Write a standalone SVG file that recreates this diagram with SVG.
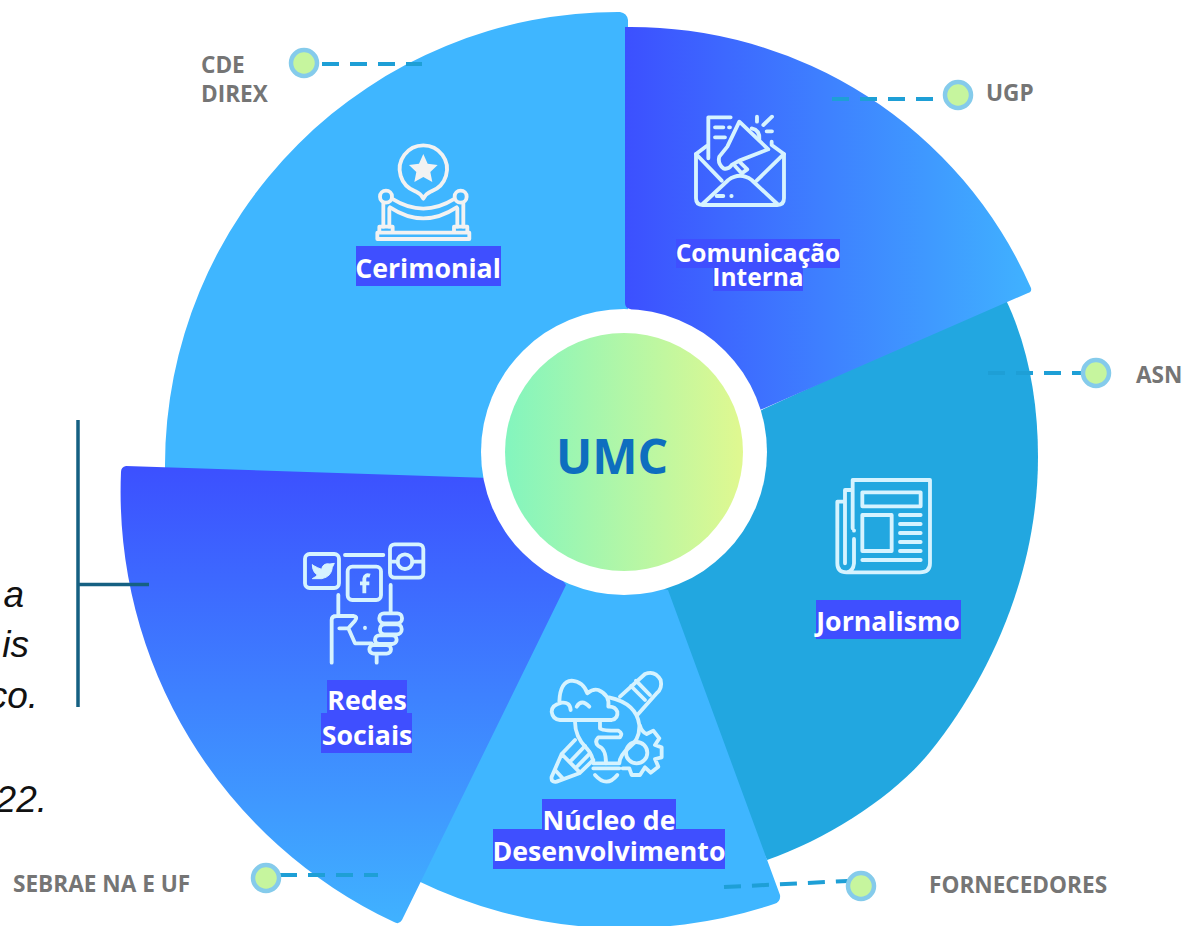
<svg xmlns="http://www.w3.org/2000/svg" width="1182" height="926" viewBox="0 0 1182 926">
<defs>
<linearGradient id="gc" x1="0" y1="0" x2="1" y2="0"><stop offset="0" stop-color="#3C50FF"/><stop offset="1" stop-color="#40B2FF"/></linearGradient>
<linearGradient id="gr" x1="0" y1="0" x2="0" y2="1"><stop offset="0" stop-color="#3C50FF"/><stop offset="1" stop-color="#40B2FF"/></linearGradient>
<linearGradient id="gu" x1="0" y1="0" x2="1" y2="0"><stop offset="0" stop-color="#83F5BE"/><stop offset="1" stop-color="#E0F890"/></linearGradient>
</defs>
<style>
.lbl{font-family:"Open Sans","Noto Sans",sans-serif;font-weight:700;font-size:26.700px;fill:#fff;text-anchor:middle}
.small{font-size:24.500px}
.bg{fill:#3F4FFF}
.side{font-family:"Open Sans","Noto Sans",sans-serif;font-weight:700;font-size:22.600px;fill:#757575}
.cap{font-family:"Liberation Sans",Arial,sans-serif;font-style:italic;font-size:37px;fill:#111;text-anchor:end}
.ic{fill:none;stroke:#D6F3FF;stroke-width:11.500;stroke-linecap:round;stroke-linejoin:round}
.dash{fill:none;stroke:#1E9FD6;stroke-width:4;stroke-dasharray:17 11}
.dot{fill:#C6F59E;stroke:#85CBEB;stroke-width:4.500}
</style>

<g id="sector-cerimonial">
<path d="M620 12 A453 453 0 0 0 165 465 L165 475 L500 480 L628 310 L628 20 Q627 13 620 12 Z" fill="#3FB6FF"/>
<g transform="translate(340,130) scale(.3333)">
<g class="ic" style="stroke:#F2F2F2">
<path d="M226 184 A71 71 0 1 1 274 184 Q258 191 250 206 Q242 191 226 184 Z"/>
<circle cx="138" cy="200" r="18"/><circle cx="362" cy="200" r="18"/>
<path d="M130 218 V290 M148 235 V290 M352 235 V290 M370 218 V290"/>
<path d="M157 207 Q250 265 343 207 M150 232 Q250 298 350 232"/>
<path d="M118 304 V290 H158 V304 M342 304 V290 H382 V304"/>
<rect x="112" y="308" width="276" height="19"/>
</g>
<path d="M250 72 L263 101 L293 105 L271 126 L277 156 L250 141 L223 156 L229 126 L207 105 L237 101 Z" fill="#F2F2F2"/>
</g>
<rect class="bg" x="356" y="246" width="145" height="40"/>
<text class="lbl" x="428" y="278">Cerimonial</text>
</g>

<g id="sector-jornalismo">
<path d="M1005 298 C1028 345 1038 400 1038 457 C1038 570 992 675 930 752 C895 795 830 838 767 860 L640 590 L740 420 Z" fill="#22A7E0"/>
<g transform="translate(820,465) scale(.3333)" class="ic">
<path d="M98 190 V45 H330 V295 Q330 322 300 322 H80 Q52 322 52 295 V110 H75 M75 295 V75 H98 M102 222 V295 Q100 318 80 322 M102 196 V197"/>
<rect x="127" y="82" width="175" height="42"/><rect x="127" y="150" width="88" height="108"/>
<path d="M240 150 H302 M240 177 H302 M240 204 H302 M240 231 H302 M240 258 H302 M127 285 H302"/>
</g>
<rect class="bg" x="816" y="600" width="145" height="39"/>
<text class="lbl" x="888" y="631">Jornalismo</text>
</g>

<g id="sector-desenvolvimento">
<path d="M565 570 L668 590 L780 895 Q781 902 774 904 A474 474 0 0 1 416 880 Z" fill="#3FB6FF"/>
<g transform="translate(530,660) scale(.3333)" class="ic">
<path d="M122 150 Q120 125 95 128 Q65 135 65 155 Q68 178 90 180 H245 Q265 175 262 155 Q255 138 235 140 Q240 105 205 90 Q190 85 172 100 Q160 65 125 62 Q90 65 88 125"/>
<path d="M140 140 Q155 115 178 140"/>
<path d="M237 112 Q320 130 328 195 Q330 240 295 265 Q270 285 268 310 H190 Q188 285 170 265 Q135 230 135 185"/>
<path d="M210 182 V205 Q215 212 265 212 Q280 220 270 232 H205 Q192 245 205 258 Q228 265 228 310"/>
<path d="M190 325 H268 M195 345 Q230 385 262 345"/>
<path d="M270 110 L345 42 Q375 30 392 60 Q398 85 380 100 L322 165 M303 78 L345 120 M318 62 L360 105"/>
<path d="M135 240 L95 282 L65 350 Q62 368 80 365 L148 340 L190 300 M95 282 L150 338 M125 300 L165 258 M143 318 L180 280 M75 330 L98 355"/>
<circle cx="320" cy="278" r="32"/>
<path d="M330 197 Q335 215 350 222 L370 212 L388 235 L375 255 L395 262 V292 L375 297 L385 320 L362 338 L345 322 L330 345 H305 L298 325 L278 325"/>
</g>
<rect class="bg" x="542" y="799" width="134" height="31"/>
<rect class="bg" x="493" y="829" width="232" height="40"/>
<text class="lbl" x="609" y="830">Núcleo de</text>
<text class="lbl" x="609" y="861">Desenvolvimento</text>
</g>

<g id="sector-comunicacao">
<path d="M625 27 A437 437 0 0 1 1031 288 Q1032 292 1028 293 L760 410 L630 309 Q625 308 625 303 Z" fill="url(#gc)"/>
<g transform="translate(640,90) scale(.3333)" class="ic">
<path d="M200 168 L168 192 V325 Q168 345 188 345 H412 Q432 345 432 325 V192 L395 165 V155"/>
<path d="M168 192 L245 272 M432 192 L350 272 M188 342 L265 270 Q300 245 335 270 L412 342"/>
<path d="M205 205 V82 H272 M225 112 H250 M267 112 H270 M225 142 H255 M230 318 H250 M274 318 H275"/>
<path d="M298 95 L385 178 L298 212 L275 225 Q265 240 250 235 Q232 220 238 200 L262 170 Z"/>
<path d="M298 215 L322 238 L305 250 L285 228 M335 115 Q360 120 358 148"/>
<path d="M351 80 V95 M370 105 L396 80 M380 124 H396"/>
</g>
<rect class="bg" x="676" y="239" width="164" height="29"/>
<rect class="bg" x="713" y="267" width="90" height="24"/>
<text class="lbl small" x="758" y="262">Comunicação</text>
<text class="lbl small" x="758" y="286">Interna</text>
</g>

<g id="sector-redes">
<path d="M126 466 L490 478 L566 585 L402 920 Q399 925 394 922 A475 475 0 0 1 121 472 Q121 467 126 466 Z" fill="url(#gr)"/>
<g transform="translate(280,530) scale(.3333)" class="ic">
<rect x="75" y="72" width="102" height="102" rx="14"/><rect x="203" y="110" width="100" height="100" rx="14"/><rect x="330" y="43" width="100" height="100" rx="14"/>
<circle cx="375" cy="95" r="22"/>
<path d="M335 95 H353 M397 95 H428 M195 75 H310"/>
<path d="M175 195 V255 M155 398 V270 Q155 258 170 258 H220 Q235 260 225 272 L205 295 H178 M205 295 L225 340 H275 M332 165 V245 M290 375 V398 M255 293 V294"/>
<rect x="298" y="250" width="68" height="30" rx="14"/><rect x="300" y="283" width="65" height="30" rx="14"/><rect x="285" y="316" width="65" height="26" rx="13"/><rect x="268" y="345" width="65" height="26" rx="13"/>
<path d="M270 137 Q255 132 253 146 V190 M240 160 H268" style="stroke-linecap:butt"/>
<path d="M97 105 Q115 115 125 118 Q128 98 150 102 L163 100 L157 112 Q155 140 125 146 L97 146 Q108 140 112 135 Q97 125 97 105 Z" fill="#D6F3FF" stroke-width="3"/>
</g>
<rect class="bg" x="327" y="680" width="80" height="36"/>
<rect class="bg" x="321" y="713" width="91" height="40"/>
<text class="lbl" x="367" y="710">Redes</text>
<text class="lbl" x="367" y="745">Sociais</text>
</g>

<g id="umc">
<circle cx="624" cy="452" r="143" fill="#fff"/>
<circle cx="624" cy="452" r="119" fill="url(#gu)"/>
<text x="612" y="474" font-family="'Open Sans','Noto Sans',sans-serif" font-weight="700" font-size="48" fill="#0E6EBF" text-anchor="middle">UMC</text>
</g>

<g id="connectors">
<path class="dash" d="M322 64 H422"/>
<path class="dash" d="M832 99 H945"/>
<path class="dash" d="M988 373 H1083"/>
<path class="dash" d="M724 887 L848 881"/>
<path class="dash" d="M280 875 H378"/>
<path d="M78 420 V707 M78 584.500 H149" fill="none" stroke="#156082" stroke-width="3.500"/>
</g>

<g id="n-cde"><circle class="dot" cx="304" cy="63" r="13"/><text class="side" x="201" y="73">CDE</text><text class="side" x="201" y="102">DIREX</text></g>
<g id="n-ugp"><circle class="dot" cx="958" cy="95" r="13"/><text class="side" x="986" y="101">UGP</text></g>
<g id="n-asn"><circle class="dot" cx="1096" cy="373" r="13"/><text class="side" x="1136" y="383">ASN</text></g>
<g id="n-forn"><circle class="dot" cx="861" cy="886" r="13"/><text class="side" x="929" y="893">FORNECEDORES</text></g>
<g id="n-sebrae"><circle class="dot" cx="266" cy="878" r="13"/><text class="side" x="13" y="892">SEBRAE NA E UF</text></g>

<g id="caption">
<text class="cap" x="24" y="607">a</text>
<text class="cap" x="29" y="657">is</text>
<text class="cap" x="38" y="708">co.</text>
<text class="cap" x="47" y="812">22.</text>
</g>
</svg>
